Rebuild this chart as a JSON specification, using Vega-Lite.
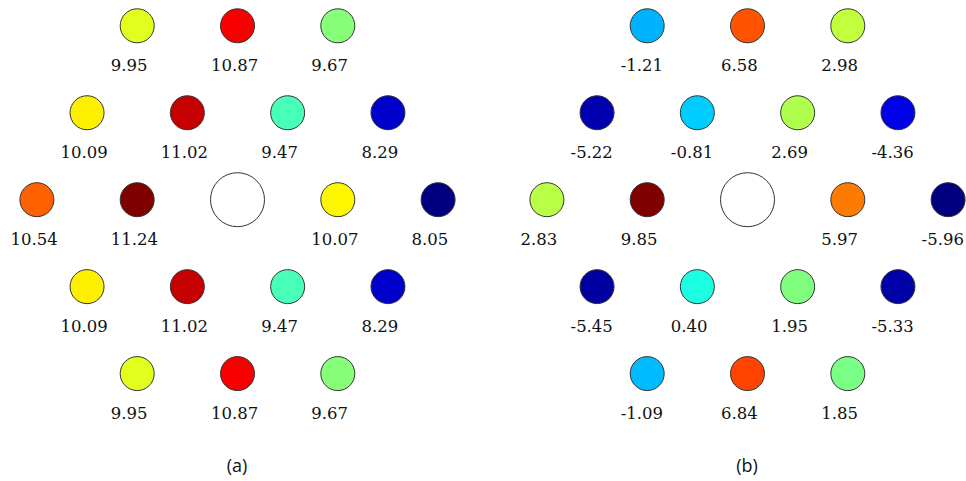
{
  "$schema": "https://vega.github.io/schema/vega-lite/v6.json",
  "padding": 0,
  "bounds": "flush",
  "spacing": 56,
  "background": "white",
  "config": {
    "view": {"stroke": null}
  },
  "datasets": {
    "a": [
      {"x": -1, "row": 2, "value": 9.95, "label": "9.95"},
      {"x": 0, "row": 2, "value": 10.87, "label": "10.87"},
      {"x": 1, "row": 2, "value": 9.67, "label": "9.67"},
      {"x": -1.5, "row": 1, "value": 10.09, "label": "10.09"},
      {"x": -0.5, "row": 1, "value": 11.02, "label": "11.02"},
      {"x": 0.5, "row": 1, "value": 9.47, "label": "9.47"},
      {"x": 1.5, "row": 1, "value": 8.29, "label": "8.29"},
      {"x": -2, "row": 0, "value": 10.54, "label": "10.54"},
      {"x": -1, "row": 0, "value": 11.24, "label": "11.24"},
      {"x": 1, "row": 0, "value": 10.07, "label": "10.07"},
      {"x": 2, "row": 0, "value": 8.05, "label": "8.05"},
      {"x": -1.5, "row": -1, "value": 10.09, "label": "10.09"},
      {"x": -0.5, "row": -1, "value": 11.02, "label": "11.02"},
      {"x": 0.5, "row": -1, "value": 9.47, "label": "9.47"},
      {"x": 1.5, "row": -1, "value": 8.29, "label": "8.29"},
      {"x": -1, "row": -2, "value": 9.95, "label": "9.95"},
      {"x": 0, "row": -2, "value": 10.87, "label": "10.87"},
      {"x": 1, "row": -2, "value": 9.67, "label": "9.67"}
    ],
    "b": [
      {"x": -1, "row": 2, "value": -1.21, "label": "-1.21"},
      {"x": 0, "row": 2, "value": 6.58, "label": "6.58"},
      {"x": 1, "row": 2, "value": 2.98, "label": "2.98"},
      {"x": -1.5, "row": 1, "value": -5.22, "label": "-5.22"},
      {"x": -0.5, "row": 1, "value": -0.81, "label": "-0.81"},
      {"x": 0.5, "row": 1, "value": 2.69, "label": "2.69"},
      {"x": 1.5, "row": 1, "value": -4.36, "label": "-4.36"},
      {"x": -2, "row": 0, "value": 2.83, "label": "2.83"},
      {"x": -1, "row": 0, "value": 9.85, "label": "9.85"},
      {"x": 1, "row": 0, "value": 5.97, "label": "5.97"},
      {"x": 2, "row": 0, "value": -5.96, "label": "-5.96"},
      {"x": -1.5, "row": -1, "value": -5.45, "label": "-5.45"},
      {"x": -0.5, "row": -1, "value": 0.40, "label": "0.40"},
      {"x": 0.5, "row": -1, "value": 1.95, "label": "1.95"},
      {"x": 1.5, "row": -1, "value": -5.33, "label": "-5.33"},
      {"x": -1, "row": -2, "value": -1.09, "label": "-1.09"},
      {"x": 0, "row": -2, "value": 6.84, "label": "6.84"},
      {"x": 1, "row": -2, "value": 1.85, "label": "1.85"}
    ],
    "center": [{"x": 0, "row": 0}]
  },
  "hconcat": [
    {
      "width": 454,
      "height": 430,
      "title": {"text": "(a)", "orient": "bottom", "anchor": "middle", "font": "Open Sans", "fontSize": 18, "fontWeight": "normal", "color": "#111", "dx": 10, "offset": 28},
      "layer": [
        {
          "data": {"name": "center"},
          "mark": {"type": "point", "shape": "circle", "filled": true, "fill": "white", "stroke": "#333", "strokeWidth": 1, "opacity": 1, "size": 2916},
          "encoding": {
            "x": {"field": "x", "type": "quantitative", "scale": {"domain": [-2.3679, 2.1585], "nice": false, "zero": false}, "axis": null},
            "y": {"field": "row", "type": "quantitative", "scale": {"domain": [-2.6487, 2.2967], "nice": false, "zero": false}, "axis": null}
          }
        },
        {
          "data": {"name": "a"},
          "mark": {"type": "point", "shape": "circle", "filled": true, "stroke": "#333", "strokeWidth": 1, "opacity": 1, "size": 1156},
          "encoding": {
            "x": {"field": "x", "type": "quantitative", "scale": {"domain": [-2.3679, 2.1585], "nice": false, "zero": false}, "axis": null},
            "y": {"field": "row", "type": "quantitative", "scale": {"domain": [-2.6487, 2.2967], "nice": false, "zero": false}, "axis": null},
            "color": {"field": "value", "type": "quantitative", "legend": null,
              "scale": {"type": "linear", "domain": [8.05, 8.44875, 9.24625, 10.04375, 10.84125, 11.24], "range": ["#000080", "#0000ff", "#00ffff", "#ffff00", "#ff0000", "#800000"], "interpolate": "rgb"}}
          }
        },
        {
          "data": {"name": "a"},
          "mark": {"type": "text", "font": "DejaVu Serif", "fontSize": 16.5, "fill": "#111", "baseline": "alphabetic", "align": "left", "dx": -26.5, "dy": 45},
          "encoding": {
            "x": {"field": "x", "type": "quantitative", "scale": {"domain": [-2.3679, 2.1585], "nice": false, "zero": false}, "axis": null},
            "y": {"field": "row", "type": "quantitative", "scale": {"domain": [-2.6487, 2.2967], "nice": false, "zero": false}, "axis": null},
            "text": {"field": "label", "type": "nominal"}
          }
        }
      ]
    },
    {
      "width": 454,
      "height": 430,
      "title": {"text": "(b)", "orient": "bottom", "anchor": "middle", "font": "Open Sans", "fontSize": 18, "fontWeight": "normal", "color": "#111", "dx": 10, "offset": 28},
      "layer": [
        {
          "data": {"name": "center"},
          "mark": {"type": "point", "shape": "circle", "filled": true, "fill": "white", "stroke": "#333", "strokeWidth": 1, "opacity": 1, "size": 2916},
          "encoding": {
            "x": {"field": "x", "type": "quantitative", "scale": {"domain": [-2.3679, 2.1585], "nice": false, "zero": false}, "axis": null},
            "y": {"field": "row", "type": "quantitative", "scale": {"domain": [-2.6487, 2.2967], "nice": false, "zero": false}, "axis": null}
          }
        },
        {
          "data": {"name": "b"},
          "mark": {"type": "point", "shape": "circle", "filled": true, "stroke": "#333", "strokeWidth": 1, "opacity": 1, "size": 1156},
          "encoding": {
            "x": {"field": "x", "type": "quantitative", "scale": {"domain": [-2.3679, 2.1585], "nice": false, "zero": false}, "axis": null},
            "y": {"field": "row", "type": "quantitative", "scale": {"domain": [-2.6487, 2.2967], "nice": false, "zero": false}, "axis": null},
            "color": {"field": "value", "type": "quantitative", "legend": null,
              "scale": {"type": "linear", "domain": [-5.96, -3.98375, -0.03125, 3.92125, 7.87375, 9.85], "range": ["#000080", "#0000ff", "#00ffff", "#ffff00", "#ff0000", "#800000"], "interpolate": "rgb"}}
          }
        },
        {
          "data": {"name": "b"},
          "mark": {"type": "text", "font": "DejaVu Serif", "fontSize": 16.5, "fill": "#111", "baseline": "alphabetic", "align": "left", "dx": -26.5, "dy": 45},
          "encoding": {
            "x": {"field": "x", "type": "quantitative", "scale": {"domain": [-2.3679, 2.1585], "nice": false, "zero": false}, "axis": null},
            "y": {"field": "row", "type": "quantitative", "scale": {"domain": [-2.6487, 2.2967], "nice": false, "zero": false}, "axis": null},
            "text": {"field": "label", "type": "nominal"}
          }
        }
      ]
    }
  ],
  "resolve": {"scale": {"color": "independent", "x": "independent", "y": "independent"}}
}
